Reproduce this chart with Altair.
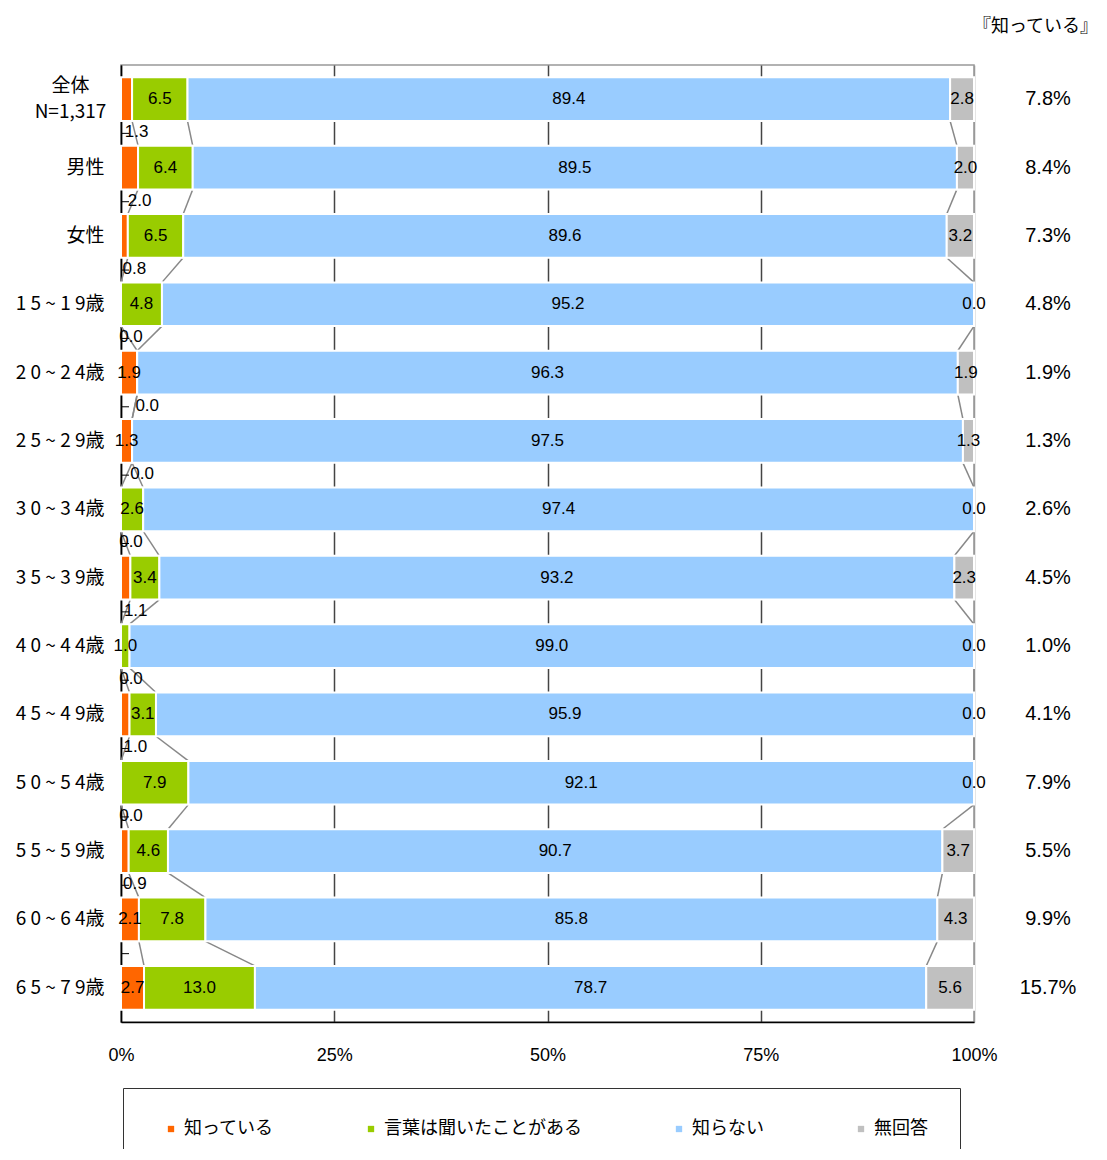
import altair as alt
import pandas as pd

categories = ["全体|N=1,317", "男性", "女性", "1 5 ~ 1 9歳", "2 0 ~ 2 4歳", "2 5 ~ 2 9歳",
              "3 0 ~ 3 4歳", "3 5 ~ 3 9歳", "4 0 ~ 4 4歳", "4 5 ~ 4 9歳", "5 0 ~ 5 4歳",
              "5 5 ~ 5 9歳", "6 0 ~ 6 4歳", "6 5 ~ 7 9歳"]
series = ["知っている", "言葉は聞いたことがある", "知らない", "無回答"]
colors = ["#FF6600", "#99CC00", "#99CCFF", "#C0C0C0"]
know = [1.3, 2.0, 0.8, 0.0, 1.9, 1.3, 0.0, 1.1, 0.0, 1.0, 0.0, 0.9, 2.1, 2.7]
heard = [6.5, 6.4, 6.5, 4.8, 0.0, 0.0, 2.6, 3.4, 1.0, 3.1, 7.9, 4.6, 7.8, 13.0]
dont_know = [89.4, 89.5, 89.6, 95.2, 96.3, 97.5, 97.4, 93.2, 99.0, 95.9, 92.1, 90.7, 85.8, 78.7]
no_answer = [2.8, 2.0, 3.2, 0.0, 1.9, 1.3, 0.0, 2.3, 0.0, 0.0, 0.0, 3.7, 4.3, 5.6]
known_total = ["7.8%", "8.4%", "7.3%", "4.8%", "1.9%", "1.3%", "2.6%", "4.5%", "1.0%",
               "4.1%", "7.9%", "5.5%", "9.9%", "15.7%"]
header = "『知っている』"
# (row index, series index) whose value label sits below the bar
below_labels = [(0, 0), (1, 0), (2, 0), (3, 0), (4, 1), (5, 1), (6, 0), (7, 0),
                (8, 0), (9, 0), (10, 0), (11, 0)]

values = [know, heard, dont_know, no_answer]
rows = []
ends = []
for i, cat in enumerate(categories):
    total = sum(v[i] for v in values)
    cum = 0.0
    row_ends = []
    for k, s in enumerate(series):
        v = values[k][i]
        start = cum
        cum += v / total * 100
        row_ends.append(cum)
        rows.append({"row": cat, "series": s, "value": v, "start": start, "end": cum,
                     "mid": (start + cum) / 2, "below": (i, k) in below_labels, "order": k})
    ends.append(row_ends)
df = pd.DataFrame(rows)

conn = []
for i in range(len(categories) - 1):
    for k in range(3):
        conn.append({"row": categories[i], "row_next": categories[i + 1],
                     "x": ends[i][k], "x2": ends[i + 1][k]})
conn_df = pd.DataFrame(conn)
tot_df = pd.DataFrame({"row": categories, "total": known_total})
tick_df = pd.DataFrame({"row": categories[1:]})
head_df = pd.DataFrame({"t": [header]})

yscale = alt.Scale(domain=categories, paddingInner=0.36, paddingOuter=0.18)
xscale = alt.Scale(domain=[0, 100], nice=False)
multi = "indexof(datum.value, '|') >= 0"

bars = alt.Chart(df).mark_bar(stroke="white", strokeWidth=2).encode(
    x=alt.X("start:Q", scale=xscale,
            axis=alt.Axis(values=[0, 25, 50, 75, 100], labelExpr="datum.value + '%'",
                          title=None, tickSize=0, labelPadding=24, labelFontSize=18,
                          labelFont="Liberation Sans", labelColor="#000", labelFlush=False,
                          domainColor="#000", domainWidth=1.5,
                          grid=True,
                          gridColor={"condition": {"test": "datum.value == 100", "value": "#999999"},
                                     "value": "#444444"},
                          gridWidth=1.5)),
    x2="end:Q",
    y=alt.Y("row:N", scale=yscale,
            axis=alt.Axis(title=None, ticks=False, labelFontSize=19,
                          labelFont="Noto Sans CJK JP", labelColor="#000",
                          labelExpr="split(datum.label, '|')", labelLineHeight=26,
                          labelPadding={"condition": {"test": multi, "value": 51}, "value": 17},
                          labelAlign={"condition": {"test": multi, "value": "center"}, "value": "right"},
                          labelOffset={"condition": {"test": multi, "value": -13}, "value": 0},
                          domainColor="#000", domainWidth=1.5)),
    color=alt.Color("series:N", scale=alt.Scale(domain=series, range=colors),
                    legend=alt.Legend(title=None, orient="none", legendX=2, legendY=1023,
                                      direction="horizontal", columns=4, columnPadding=81,
                                      padding=32, strokeColor="#333", symbolType="square",
                                      symbolSize=40, symbolStrokeWidth=0, labelLimit=400,
                                      labelFontSize=18, labelFont="Noto Sans CJK JP",
                                      labelColor="#000", symbolOffset=7)),
    order=alt.Order("order:Q"),
)

inside = alt.Chart(df).transform_filter("!datum.below").mark_text(
    fontSize=17, font="Liberation Sans", color="#000").encode(
    x=alt.X("mid:Q", scale=xscale),
    y=alt.Y("row:N", scale=yscale),
    text=alt.Text("value:Q", format=".1f"),
)

below = alt.Chart(df).transform_filter("datum.below").mark_text(
    fontSize=17, font="Liberation Sans", color="#000", dx=10, dy=33).encode(
    x=alt.X("mid:Q", scale=xscale),
    y=alt.Y("row:N", scale=yscale),
    text=alt.Text("value:Q", format=".1f"),
)

connectors = alt.Chart(conn_df).mark_rule(color="#888888", strokeWidth=1.5).encode(
    x=alt.X("x:Q", scale=xscale),
    x2="x2:Q",
    y=alt.Y("row:N", scale=yscale, bandPosition=1),
    y2=alt.Y2("row_next:N", bandPosition=0),
)

ticks = alt.Chart(tick_df).mark_rule(color="#000", strokeWidth=1, yOffset=-12.3).encode(
    x=alt.value(0), x2=alt.value(8),
    y=alt.Y("row:N", scale=yscale, bandPosition=0),
)

totals = alt.Chart(tot_df).mark_text(fontSize=20, font="Liberation Sans", color="#000").encode(
    x=alt.value(927),
    y=alt.Y("row:N", scale=yscale),
    text="total:N",
)

head = alt.Chart(head_df).mark_text(fontSize=18, font="Noto Sans CJK JP", color="#000",
                                    align="right").encode(
    x=alt.value(977), y=alt.value(-38), text="t:N")

chart = alt.layer(connectors, bars, inside, below, ticks, totals, head).properties(
    width=853, height=957,
    autosize=alt.AutoSizeParams(type="none"),
    padding={"left": 113, "top": 57, "right": 124, "bottom": 127},
).configure_view(stroke="#999999", strokeWidth=1.5)

chart.save("out.html", embed_options={"renderer": "svg", "actions": False})
